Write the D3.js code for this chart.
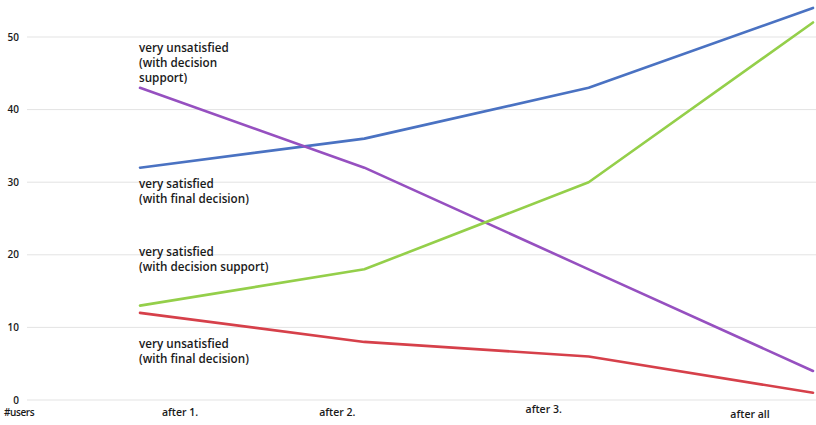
<!DOCTYPE html>
<html>
<head>
<meta charset="utf-8">
<script src="https://cdn.jsdelivr.net/npm/d3@7"></script>
<style>
  html, body { margin: 0; padding: 0; background: #fff; }
  svg text { font-family: "Open Sans", "Noto Sans", sans-serif; font-weight: 600; fill: #1a1a1a; }
</style>
</head>
<body>
<svg id="chart" width="816" height="425"></svg>
<script>
// Number of users per satisfaction group at each stage
const stages = ["after 1.", "after 2.", "after 3.", "after all"];
const yTicks = [0, 10, 20, 30, 40, 50];
const satisfiedFinal = [32, 36, 43, 54];
const unsatisfiedSupport = [43, 32, 18, 4];
const satisfiedSupport = [13, 18, 30, 52];
const unsatisfiedFinal = [12, 8, 6, 1];
const seriesNames = [
  ["very satisfied", "(with final decision)"],
  ["very unsatisfied", "(with decision", "support)"],
  ["very satisfied", "(with decision support)"],
  ["very unsatisfied", "(with final decision)"]
];
const yAxisTitle = "#users";

const series = [
  { values: satisfiedFinal, name: seriesNames[0], color: "#4a72c2", labelAt: 29.2 },
  { values: unsatisfiedSupport, name: seriesNames[1], color: "#9650c0", labelAt: 48.0 },
  { values: satisfiedSupport, name: seriesNames[2], color: "#94cf4a", labelAt: 19.9 },
  { values: unsatisfiedFinal, name: seriesNames[3], color: "#d6404a", labelAt: 7.2 }
];

const svg = d3.select("#chart");
const x = d3.scalePoint().domain(stages).range([140, 813]);
const y = d3.scaleLinear().domain([0, 50]).range([400, 37]);

// Horizontal gridlines with value labels on the left
const grid = svg.append("g");
grid.selectAll("line").data(yTicks).join("line")
  .attr("x1", 27).attr("x2", 816)
  .attr("y1", d => y(d)).attr("y2", d => y(d))
  .attr("stroke", "#e3e3e3").attr("stroke-width", 1);
grid.selectAll("text").data(yTicks).join("text")
  .attr("x", 19).attr("y", d => y(d) + 3.5)
  .attr("text-anchor", "end")
  .style("font-size", "10px")
  .text(d => d);

svg.append("text")
  .attr("x", 4).attr("y", 416)
  .style("font-size", "10px")
  .style("letter-spacing", "-0.4px")
  .text(yAxisTitle);

// Stage labels under the plot
const stageOffsets = [40, -27, -45, -63];
const stageDy = [416, 416, 413, 418];
svg.append("g").selectAll("text").data(stages).join("text")
  .attr("x", (d, i) => x(d) + stageOffsets[i])
  .attr("y", (d, i) => stageDy[i])
  .attr("text-anchor", "middle")
  .style("font-size", "10.5px")
  .text(d => d);

// Lines
const line = d3.line()
  .x((d, i) => x(stages[i]))
  .y(d => y(d));
svg.append("g").selectAll("path").data(series).join("path")
  .attr("d", d => line(d.values))
  .attr("fill", "none")
  .attr("stroke", d => d.color)
  .attr("stroke-width", 2.6)
  .attr("stroke-linejoin", "round")
  .attr("stroke-linecap", "round");

// Series names written inside the plot near the first stage
const labels = svg.append("g");
series.forEach(s => {
  const t = labels.append("text")
    .attr("x", x(stages[0]) - 1)
    .attr("y", y(s.labelAt))
    .style("font-size", "11.7px");
  s.name.forEach((ln, i) => {
    t.append("tspan").attr("x", x(stages[0]) - 1).attr("dy", i === 0 ? 0 : 15).text(ln);
  });
});
</script>
</body>
</html>
